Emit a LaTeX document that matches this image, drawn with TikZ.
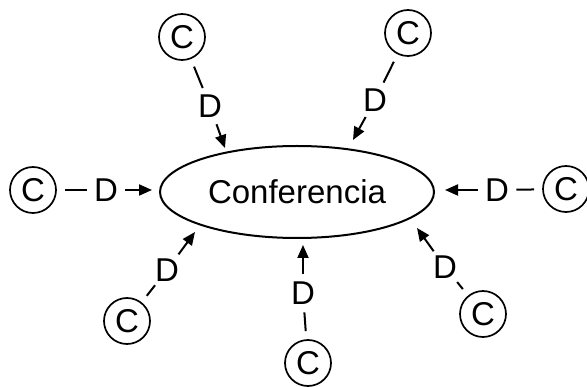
\documentclass[tikz,border=0pt]{standalone}
\usepackage{fontspec}
\setmainfont{Liberation Sans}
\usetikzlibrary{arrows.meta,shapes.geometric}
\begin{document}
\begin{tikzpicture}[x=1pt,y=-1pt,
  every node/.style={font=\fontsize{33}{33}\selectfont},
  cnode/.style={circle,draw,line width=1.7pt,minimum size=46pt,inner sep=0pt,outer sep=9pt},
  dnode/.style={circle,inner sep=0pt,outer sep=3pt},
  enode/.style={ellipse,draw,line width=2pt,minimum width=274pt,minimum height=92pt,inner sep=0pt},
  seg/.style={line width=2pt},
  arr/.style={line width=2pt,-{Triangle[length=13pt,width=11pt]}}]
\useasboundingbox (0,0) rectangle (587,387);
\node[enode] (e) at (297,192) {Conferencia};
% circles
\node[cnode] (c1) at (182,37) {C};
\node[cnode] (c2) at (408,33) {C};
\node[cnode] (c3) at (33,190) {C};
\node[cnode] (c4) at (566,189) {C};
\node[cnode] (c5) at (127,321) {C};
\node[cnode] (c6) at (483,314) {C};
\node[cnode] (c7) at (308,363) {C};
% D labels
\node[dnode] (d1) at (210,106) {D};
\node[dnode] (d2) at (375,100) {D};
\node[dnode] (d3) at (106,190) {D};
\node[dnode] (d4) at (497,190) {D};
\node[dnode] (d5) at (167,270) {D};
\node[dnode] (d6) at (445,267) {D};
\node[dnode] (d7) at (303,293) {D};
% arrow tips
\coordinate (t1) at (225,148);
\coordinate (t2) at (353,140);
\coordinate (t3) at (152,190);
\coordinate (t4) at (445,190);
\coordinate (t5) at (195,232);
\coordinate (t6) at (417,228);
\coordinate (t7) at (303,245);
% connectors
\foreach \i in {1,...,7}{
  \draw[seg] (c\i) -- (d\i);
  \draw[arr] (d\i) -- (t\i);
}
\end{tikzpicture}
\end{document}
